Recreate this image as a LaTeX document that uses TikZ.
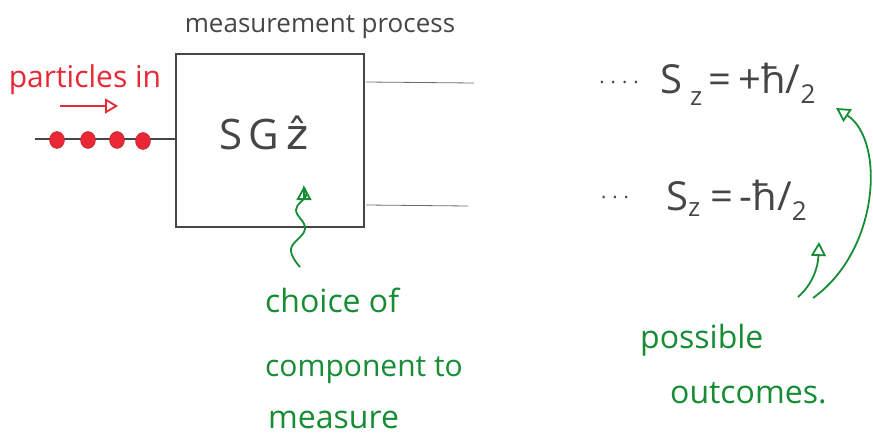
\documentclass[tikz,border=0pt]{standalone}
\usepackage{fontspec}
\setmainfont{Open Sans}
\newfontfamily\dejavu{DejaVu Sans}
\usetikzlibrary{arrows.meta,shapes.geometric}
\definecolor{penred}{RGB}{232,40,52}
\definecolor{pengreen}{RGB}{22,140,52}
\definecolor{pengray}{RGB}{70,70,70}
\tikzset{
  hand/.style={font=\fontsize{28}{32}\selectfont, inner sep=0pt},
  redtxt/.style={hand, text=penred, font=\fontsize{30}{34}\selectfont},
  greentxt/.style={hand, text=pengreen, anchor=west, font=\fontsize{32}{36}\selectfont},
  graytxt/.style={hand, text=pengray},
  greenarrow/.style={draw=pengreen, line width=1.8pt, -{Triangle[open, length=14pt, width=15pt]}},
  redarrow/.style={draw=penred, line width=1.8pt, -{Triangle[open, length=13pt, width=15pt]}},
  outline/.style={draw=pengray, line width=1.2pt},
  thinline/.style={draw=pengray!80, line width=0.8pt},
  dot/.style={ellipse, fill=penred, draw=penred!80!black, minimum width=15pt, minimum height=17pt, inner sep=0pt},
}
\begin{document}
\begin{tikzpicture}[x=1pt, y=-1pt]
\useasboundingbox (0,0) rectangle (873,441);
% box
\node[outline, minimum width=188pt, minimum height=173pt, inner sep=0pt] (box) at (270,140.5) {};
\node[graytxt, font=\fontsize{42}{46}\selectfont] (sg) at (264,133) {S\hspace{6pt}G\hspace{8pt}{\dejavu ẑ}};
\node[graytxt, font=\fontsize{26}{30}\selectfont] (title) at (320,27) {measurement process};
% particles in
\node[redtxt] (pin) at (85,80) {particles in};
\coordinate (ra1) at (60,106);
\coordinate (ra2) at (118,106);
\draw[redarrow] (ra1) -- (ra2);
\coordinate (beam) at (35,139);
\draw[outline] (beam) -- (box.west |- beam);
\node[dot] (d1) at (57,140) {};
\node[dot] (d2) at (88,140) {};
\node[dot] (d3) at (117,140) {};
\node[dot] (d4) at (143,141) {};
% output lines
\coordinate (u1) at (366,82);
\coordinate (u2) at (474,83);
\coordinate (l1) at (366,205);
\coordinate (l2) at (468,206);
\draw[thinline] (u1) -- (u2);
\draw[thinline] (l1) -- (l2);
\node[graytxt, font=\fontsize{20}{22}\selectfont] (dotsu) at (619,82) {.\hspace{6pt}.\hspace{6pt}.\hspace{6pt}.};
\node[graytxt, font=\fontsize{20}{22}\selectfont] (dotsl) at (615,197) {.\hspace{6pt}.\hspace{6pt}.};
\node[graytxt, anchor=west, font=\fontsize{40}{44}\selectfont] (up) at (660,84)
  {S\raisebox{-12pt}{\fontsize{26}{28}\selectfont\hspace{8pt}z}\,=\,+ħ/\raisebox{-10pt}{\fontsize{26}{28}\selectfont 2}};
\node[graytxt, anchor=west, font=\fontsize{40}{44}\selectfont] (down) at (666,200)
  {S\raisebox{-6pt}{\fontsize{26}{28}\selectfont z}\hspace{10pt}=\,-ħ/\raisebox{-10pt}{\fontsize{26}{28}\selectfont 2}};
% choice of component
\draw[greenarrow] plot[smooth, tension=0.7] coordinates {(300,267) (291,249) (305,229) (296,210) (306,196) (304,188)} -- (304,186);
\node[greentxt] (c1) at (265,300) {choice of};
\node[greentxt, font=\fontsize{30}{34}\selectfont] (c2) at (265,370) {component to};
\node[greentxt] (c3) at (268,420) {measure};
% possible outcomes
\coordinate (s1) at (798,297);
\coordinate (s2) at (819,242);
\coordinate (b1) at (813,298);
\coordinate (b2) at (836,108);
\draw[greenarrow] (s1) .. controls (812,285) and (818,268) .. (s2);
\draw[greenarrow] (b1) .. controls (880,250) and (885,140) .. (b2);
\node[greentxt] (p1) at (640,340) {possible};
\node[greentxt] (p2) at (670,393) {outcomes.};
\end{tikzpicture}
\end{document}
